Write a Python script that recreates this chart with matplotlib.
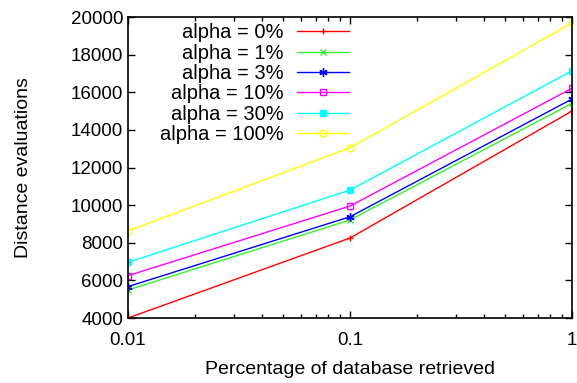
"""Distance evaluations vs. fraction of database retrieved, one line per alpha."""

import matplotlib

matplotlib.use("Agg")
import matplotlib.pyplot as plt
from matplotlib.ticker import FixedLocator, FixedFormatter


FRACTIONS = [0.01, 0.1, 1.0]

ALPHA_LABELS = [
    "alpha = 0%",
    "alpha = 1%",
    "alpha = 3%",
    "alpha = 10%",
    "alpha = 30%",
    "alpha = 100%",
]

EVALS_ALPHA_0 = [4000, 8250, 15000]
EVALS_ALPHA_1 = [5490, 9210, 15410]
EVALS_ALPHA_3 = [5670, 9380, 15640]
EVALS_ALPHA_10 = [6250, 9950, 16210]
EVALS_ALPHA_30 = [6960, 10800, 17140]
EVALS_ALPHA_100 = [8630, 13050, 19680]

Y_TICKS = [4000, 6000, 8000, 10000, 12000, 14000, 16000, 18000, 20000]
X_TICK_LABELS = ["0.01", "0.1", "1"]

SERIES = [EVALS_ALPHA_0, EVALS_ALPHA_1, EVALS_ALPHA_3,
          EVALS_ALPHA_10, EVALS_ALPHA_30, EVALS_ALPHA_100]
COLORS = ["#ff0000", "#33f033", "#0000ff", "#ff00ff", "#00ffff", "#ffff00"]
MARKERS = [
    dict(marker="+", markersize=5, markerfacecolor="none"),
    dict(marker="x", markersize=4, markerfacecolor="none"),
    dict(marker=(6, 2, 0), markersize=6),
    dict(marker="s", markersize=5, markerfacecolor="none"),
    dict(marker="s", markersize=5),
    dict(marker="o", markersize=5, markerfacecolor="none"),
]


def main() -> None:
    plt.rcParams["font.family"] = ["Liberation Sans", "DejaVu Sans"]
    plt.rcParams["font.size"] = 13.5

    fig = plt.figure(figsize=(5.77, 3.83), dpi=100)
    ax = fig.add_axes([0.2218, 0.1697, 0.9913 - 0.2218, 0.9556 - 0.1697])

    for values, label, color, marker in zip(SERIES, ALPHA_LABELS, COLORS, MARKERS):
        ax.plot(FRACTIONS, values, color=color, linewidth=1.0,
                markeredgewidth=1.0, label=label, **marker)

    ax.set_xscale("log")
    ax.set_xlim(0.01, 1.0)
    ax.set_ylim(4000, 20000)
    ax.xaxis.set_major_locator(FixedLocator(FRACTIONS))
    ax.xaxis.set_major_formatter(FixedFormatter(X_TICK_LABELS))
    ax.set_yticks(Y_TICKS)

    ax.tick_params(which="both", direction="in", top=True, right=True)
    ax.tick_params(which="major", length=5, width=1)
    ax.tick_params(which="minor", length=3, width=1)
    ax.tick_params(axis="x", pad=10)
    for spine in ax.spines.values():
        spine.set_linewidth(1.2)

    ax.set_xlabel("Percentage of database retrieved", fontsize=14, labelpad=9)
    ax.set_ylabel("Distance evaluations", fontsize=14, labelpad=28)

    leg = ax.legend(
        loc="upper left",
        bbox_to_anchor=(0.054, 1.006),
        frameon=False,
        markerfirst=False,
        fontsize=14.5,
        handlelength=2.6,
        handletextpad=0.65,
        labelspacing=0.07,
        borderaxespad=0.0,
    )
    for column in leg._legend_handle_box.get_children():
        column.align = "right"

    fig.savefig("out.png", dpi=100)
    plt.close(fig)


if __name__ == "__main__":
    main()
